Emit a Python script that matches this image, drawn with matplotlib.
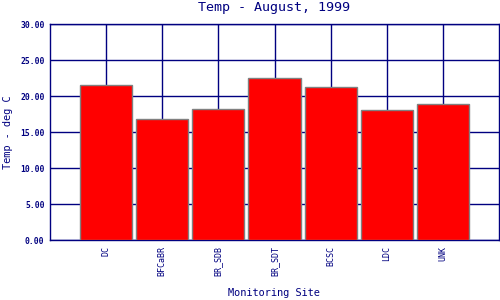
import numpy as np
import matplotlib.pyplot as plt

# Monthly mean temperature by monitoring site
sites = ['DC', 'BFCaBR', 'BR_SDB', 'BR_SDT', 'BCSC', 'LDC', 'UNK']
temps = [21.5, 16.8, 18.2, 22.45, 21.2, 18.0, 18.85]
yticks = [0, 5, 10, 15, 20, 25, 30]

NAVY = '#000080'
plt.rcParams['font.family'] = 'DejaVu Sans Mono'

fig = plt.figure(figsize=(5, 3), dpi=100)
ax = fig.add_axes([0.1, 0.2, 0.898, 0.72])

x = np.arange(1, len(sites) + 1)
ax.bar(x, temps, width=0.93, color='#ff0000', edgecolor='#808080',
       linewidth=1, zorder=3)

ax.set_xlim(0, len(sites) + 1)
ax.set_ylim(0, 30)
ax.set_yticks(yticks)
ax.set_yticklabels([f'{v:.2f}' for v in yticks], fontsize=5.8, color=NAVY,
                   fontweight='bold')
ax.set_xticks(x)
ax.set_xticklabels(sites, rotation=90, fontsize=6, color=NAVY)
ax.tick_params(axis='y', length=0, pad=4)
ax.tick_params(axis='x', length=0, pad=4)

ax.grid(True, color=NAVY, linewidth=1, zorder=0)
ax.set_axisbelow(True)
for s in ax.spines.values():
    s.set_color(NAVY)
    s.set_linewidth(1)

fig.text(0.547, 1 - 8 / 300, 'Temp - August, 1999', color=NAVY, fontsize=9.6,
         ha='center', va='center')
fig.text(0.547, 1 - 293 / 300, 'Monitoring Site', color=NAVY, fontsize=7.4,
         ha='center', va='center')
fig.text(8 / 500, 1 - 132 / 300, 'Temp - deg C', color=NAVY, fontsize=7.4,
         ha='center', va='center', rotation=90)

fig.savefig('out.png', dpi=100)
